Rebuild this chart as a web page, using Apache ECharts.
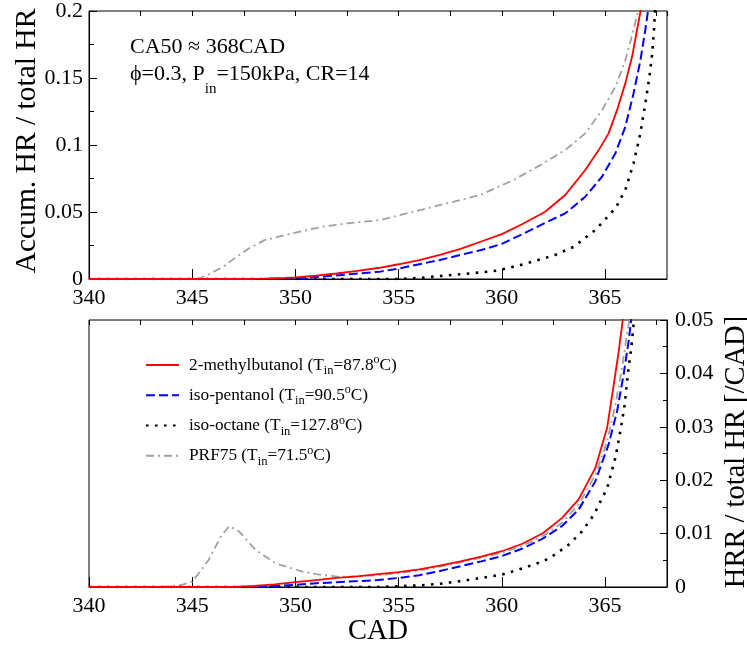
<!DOCTYPE html>
<html>
<head>
<meta charset="utf-8">
<script src="https://cdn.jsdelivr.net/npm/echarts@6/dist/echarts.min.js"></script>
<style>html,body{margin:0;padding:0;background:#fff}#c{width:747px;height:646px}</style>
</head>
<body>
<div id="c"></div>
<script>
// ---- Data: top panel (accumulated HR / total HR) ----
const accMbCad = [340, 347.5, 348.5, 349.5, 350, 351, 352, 353, 354, 355, 356, 357, 358, 359, 360, 361, 362.1, 363.07, 364.04, 364.69, 365.17, 365.58, 365.98, 366.31, 366.55, 366.72, 366.78];
const accMb    = [0, 0, 0.0003, 0.0008, 0.0012, 0.0025, 0.0041, 0.006, 0.0082, 0.011, 0.014, 0.018, 0.0225, 0.028, 0.0335, 0.041, 0.0502, 0.0627, 0.0813, 0.0962, 0.1087, 0.126, 0.146, 0.166, 0.186, 0.2, 0.21];
const accIpCad = [340, 348.5, 349.5, 350.5, 351.5, 352.6, 354.1, 355, 356, 357, 358, 359, 360, 361, 362, 363.07, 364.04, 364.85, 365.5, 365.98, 366.38, 366.71, 366.95, 367.08, 367.12];
const accIp    = [0, 0, 0.0003, 0.001, 0.002, 0.0035, 0.0055, 0.0078, 0.011, 0.0142, 0.018, 0.0216, 0.0262, 0.0335, 0.0412, 0.049, 0.0614, 0.0763, 0.0938, 0.1136, 0.1385, 0.163, 0.186, 0.2, 0.21];
const accIoCad = [340, 355, 356, 357, 358, 359, 359.76, 361.05, 362.5, 363.48, 364.53, 365.5, 365.98, 366.38, 366.71, 366.95, 367.15, 367.28, 367.36, 367.42, 367.45];
const accIo    = [0, 0, 0.0008, 0.0022, 0.0035, 0.005, 0.0062, 0.011, 0.0174, 0.024, 0.0366, 0.0527, 0.0664, 0.0863, 0.1087, 0.131, 0.151, 0.168, 0.183, 0.2, 0.21];
const accPrfCad = [340, 345.3, 345.8, 346.46, 347.1, 347.76, 348.5, 349.7, 351.3, 352.5, 354.1, 355.5, 357.34, 358.95, 360.57, 361.86, 363.07, 364.04, 364.85, 365.5, 365.98, 366.38, 366.6, 366.65];
const accPrf    = [0, 0, 0.0035, 0.0087, 0.016, 0.0229, 0.029, 0.0336, 0.039, 0.0415, 0.044, 0.0494, 0.0565, 0.0627, 0.0739, 0.085, 0.0962, 0.1087, 0.126, 0.1435, 0.163, 0.186, 0.2, 0.21];

// ---- Data: bottom panel (HRR / total HR) ----
const hrrMbCad = [340, 347, 348, 349, 350, 351, 352, 353, 354, 355, 356, 357, 358, 359, 360, 361, 362, 362.91, 363.72, 364.53, 365.1, 365.42, 365.66, 365.85, 365.9];
const hrrMb    = [0, 0, 0.0002, 0.0005, 0.0009, 0.0013, 0.0017, 0.002, 0.0024, 0.0028, 0.0033, 0.004, 0.0048, 0.0057, 0.0067, 0.0081, 0.0101, 0.0129, 0.0164, 0.0223, 0.0298, 0.0379, 0.0441, 0.0498, 0.052];
const hrrIpCad = [340, 348, 349, 350, 351, 352, 353, 354, 355, 356, 357, 358, 359, 360, 361, 362, 362.91, 363.72, 364.53, 365.17, 365.58, 365.9, 366.14, 366.26, 366.3];
const hrrIp    = [0, 0, 0.0002, 0.0004, 0.0007, 0.0009, 0.0011, 0.0013, 0.0017, 0.0022, 0.003, 0.0039, 0.0048, 0.0058, 0.0072, 0.0091, 0.0114, 0.0145, 0.0198, 0.0267, 0.0329, 0.0398, 0.046, 0.0498, 0.052];
const hrrIoCad = [340, 354, 356, 357, 358, 359, 360, 361, 362, 362.43, 363.23, 363.88, 364.45, 365.1, 365.5, 365.74, 365.95, 366.1, 366.27, 366.38, 366.42];
const hrrIo    = [0, 0, 0.0003, 0.0006, 0.0011, 0.0017, 0.0023, 0.0035, 0.0048, 0.0057, 0.0079, 0.0104, 0.0135, 0.0185, 0.0242, 0.0292, 0.0341, 0.0398, 0.0448, 0.0491, 0.0505];
const hrrPrfCad = [340, 343.5, 344.5, 345, 345.5, 345.8, 346.38, 346.79, 347.27, 348.08, 349.05, 350.34, 351, 352.12, 353, 354, 355, 356, 357, 358, 359, 360, 361, 362.1, 362.91, 363.72, 364.53, 365.1, 365.5, 365.82, 366.06, 366.17, 366.2];
const hrrPrf    = [0, 0, 0.0004, 0.001, 0.0035, 0.0051, 0.0094, 0.0114, 0.0104, 0.0069, 0.0044, 0.0029, 0.0024, 0.0019, 0.002, 0.0022, 0.0026, 0.0031, 0.0038, 0.0046, 0.0055, 0.0064, 0.0077, 0.0098, 0.012, 0.0154, 0.021, 0.0273, 0.0341, 0.041, 0.0473, 0.0498, 0.052];

// ---- Labels ----
const fuelNames = ['2-methylbutanol', 'iso-pentanol', 'iso-octane', 'PRF75'];
const fuelTin = ['87.8', '90.5', '127.8', '71.5'];
const xTicks = [340, 345, 350, 355, 360, 365];
const topYTitle = 'Accum. HR / total HR';
const bottomYTitle = 'HRR / total HR [/CAD]';
const xTitle = 'CAD';

const FONT = 'Liberation Serif';
const zip = (xs, ys) => xs.map((x, i) => [x, ys[i]]);

const styles = [
  { color: '#ff0000', width: 1.8, type: 'solid' },
  { color: '#0000ff', width: 2, type: [9, 4] },
  { color: '#000000', width: 2.6, type: [2.6, 6.4] },
  { color: '#a0a0a0', width: 1.8, type: [8, 4, 2, 4] }
];
const accData = [zip(accMbCad, accMb), zip(accIpCad, accIp), zip(accIoCad, accIo), zip(accPrfCad, accPrf)];
const hrrData = [zip(hrrMbCad, hrrMb), zip(hrrIpCad, hrrIp), zip(hrrIoCad, hrrIo), zip(hrrPrfCad, hrrPrf)];

const series = [];
[0, 1].forEach(g => {
  const d = g === 0 ? accData : hrrData;
  [3, 2, 1, 0].forEach(i => {
    series.push({
      type: 'line', name: fuelNames[i], xAxisIndex: g * 2, yAxisIndex: g,
      data: d[i], showSymbol: false, symbol: 'none', clip: true, smooth: false,
      lineStyle: { color: styles[i].color, width: styles[i].width, type: styles[i].type },
      itemStyle: { color: styles[i].color },
      z: 3 + (3 - i)
    });
  });
});

const tickLabel = { fontFamily: FONT, fontSize: 22, color: '#000' };
function mkX(gridIndex) {
  return [{
    type: 'value', gridIndex, min: 340, max: 368, interval: 5,
    axisLine: { show: true, lineStyle: { color: '#000', width: 1 } },
    axisTick: { show: true, inside: true, length: 10, lineStyle: { color: '#000' } },
    axisLabel: Object.assign({ margin: 8, showMaxLabel: false,
      formatter: v => xTicks.indexOf(v) >= 0 ? String(v) : '' }, tickLabel),
    splitLine: { show: false }
  }, {
    type: 'value', gridIndex, min: 340, max: 368, interval: 2.5,
    axisLine: { show: false },
    axisTick: { show: true, inside: true, length: 5, lineStyle: { color: '#000' } },
    axisLabel: { show: false }, splitLine: { show: false }
  }];
}

function legendFmt(name) {
  const i = fuelNames.indexOf(name);
  return '{a|' + name + ' (T}{s|in}{m|=' + fuelTin[i] + '}{p|o}{m|C)}';
}

const option = {
  animation: false,
  backgroundColor: '#fff',
  grid: [
    { left: 89, top: 11, width: 578, height: 268, show: true, borderColor: '#000', borderWidth: 1,
      backgroundColor: 'transparent', containLabel: false, outerBoundsMode: 'none' },
    { left: 89, top: 320, width: 578, height: 267, show: true, borderColor: '#000', borderWidth: 1,
      backgroundColor: 'transparent', containLabel: false, outerBoundsMode: 'none' }
  ],
  xAxis: [...mkX(0), ...mkX(1)],
  yAxis: [{
    type: 'value', gridIndex: 0, min: 0, max: 0.2, interval: 0.05,
    axisLine: { show: true, lineStyle: { color: '#000' } },
    axisTick: { show: true, inside: true, length: 8, lineStyle: { color: '#000' } },
    minorTick: { show: true, splitNumber: 2, length: 5, lineStyle: { color: '#000' } },
    axisLabel: Object.assign({ margin: 6 }, tickLabel),
    splitLine: { show: false }
  }, {
    type: 'value', gridIndex: 1, position: 'right', min: 0, max: 0.05, interval: 0.01,
    axisLine: { show: true, lineStyle: { color: '#000' } },
    axisTick: { show: true, inside: true, length: 7, lineStyle: { color: '#000' } },
    minorTick: { show: true, splitNumber: 2, length: 4, lineStyle: { color: '#000' } },
    axisLabel: Object.assign({ margin: 8 }, tickLabel),
    splitLine: { show: false }
  }],
  legend: {
    data: fuelNames, orient: 'vertical', left: 140, top: 349,
    itemWidth: 33, itemHeight: 14, itemGap: 7, selectedMode: false,
    itemStyle: { opacity: 0 },
    formatter: legendFmt,
    textStyle: {
      fontFamily: FONT, fontSize: 17, color: '#000',
      rich: {
        a: { fontFamily: FONT, fontSize: 17.3, color: '#000', lineHeight: 24, verticalAlign: 'middle', padding: [0, 0, 0, 5] },
        m: { fontFamily: FONT, fontSize: 17.3, color: '#000', lineHeight: 24, verticalAlign: 'middle' },
        s: { fontFamily: FONT, fontSize: 12.5, color: '#000', height: 12.5, verticalAlign: 'bottom' },
        p: { fontFamily: FONT, fontSize: 12, color: '#000', height: 14, verticalAlign: 'top' }
      }
    }
  },
  graphic: [
    { type: 'text', left: 130, top: 36, z: 100,
      style: { text: 'CA50 ≈ 368CAD', font: '22px "Liberation Serif"', fill: '#000' } },
    { type: 'text', left: 130, top: 63, z: 100,
      style: {
        text: '{m|ϕ=0.3, P}{s|in}{m|=150kPa, CR=14}',
        rich: {
          m: { fontFamily: FONT, fontSize: 22, fill: '#000', color: '#000', lineHeight: 45, verticalAlign: 'middle' },
          s: { fontFamily: FONT, fontSize: 15, fill: '#000', color: '#000', height: 15, verticalAlign: 'bottom' }
        }
      } },
    { type: 'text', x: 27, y: 141, rotation: Math.PI / 2, z: 100,
      style: { text: topYTitle, font: '29.5px "Liberation Serif"', fill: '#000', align: 'center', verticalAlign: 'middle' } },
    { type: 'text', x: 737, y: 452, rotation: Math.PI / 2, z: 100,
      style: { text: bottomYTitle, font: '28.5px "Liberation Serif"', fill: '#000', align: 'center', verticalAlign: 'middle' } },
    { type: 'text', x: 378, y: 632, z: 100,
      style: { text: xTitle, font: '28.5px "Liberation Serif"', fill: '#000', align: 'center', verticalAlign: 'middle' } }
  ],
  series
};

const chart = echarts.init(document.getElementById('c'), null, { renderer: 'canvas' });
chart.setOption(option);
</script>
</body>
</html>
